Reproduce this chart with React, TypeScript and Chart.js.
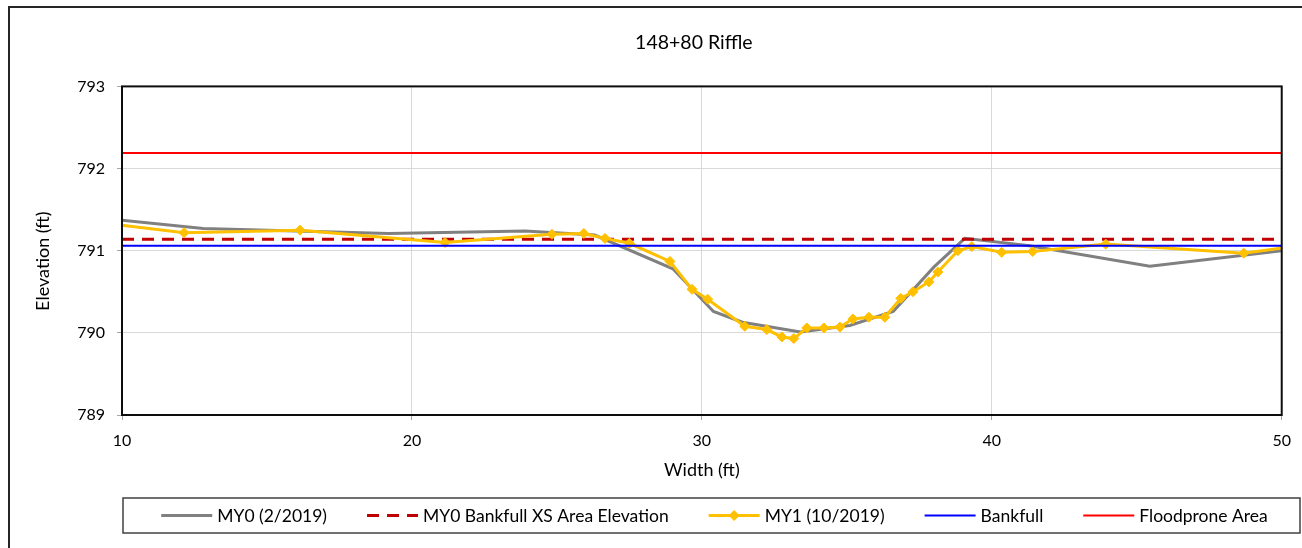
import React, { useEffect, useRef } from 'react';
import { Chart, registerables } from 'chart.js';

Chart.register(...registerables);

// ---- data ----
const chartTitle = '148+80 Riffle';
const xAxisTitle = 'Width (ft)';
const yAxisTitle = 'Elevation (ft)';
const xTicks = [10, 20, 30, 40, 50];
const yTicks = [789, 790, 791, 792, 793];

const seriesNames = [
  'MY0 (2/2019)',
  'MY0 Bankfull XS Area Elevation',
  'MY1 (10/2019)',
  'Bankfull',
  'Floodprone Area',
];

const my0X = [10, 12.8, 19.2, 23.9, 26.3, 29.0, 30.4, 31.4, 33.4, 35.1, 36.6, 38.0, 39.07, 41.3, 45.45, 50];
const my0Y = [791.37, 791.27, 791.21, 791.24, 791.19, 790.78, 790.26, 790.13, 790.01, 790.09, 790.26, 790.8, 791.15, 791.06, 790.81, 791.0];

const my1X = [9.0, 12.14, 16.14, 21.14, 24.83, 25.93, 26.66, 27.5, 28.9, 29.66, 30.2, 31.48, 32.24, 32.76, 33.17, 33.62, 34.21, 34.76, 35.21, 35.76, 36.31, 36.86, 37.28, 37.83, 38.14, 38.83, 39.31, 40.34, 41.41, 43.93, 48.69, 51.0];
const my1Y = [791.35, 791.22, 791.25, 791.1, 791.2, 791.21, 791.15, 791.09, 790.87, 790.53, 790.41, 790.08, 790.04, 789.95, 789.93, 790.06, 790.06, 790.07, 790.17, 790.19, 790.19, 790.42, 790.5, 790.62, 790.74, 791.0, 791.05, 790.98, 790.99, 791.08, 790.97, 791.08];

const refLineX = [10, 50];
const bankfullXsAreaElev = 791.14;
const bankfullElev = 791.06;
const floodproneElev = 792.19;

// ---- helpers ----
const FONT = 'Lato, "Open Sans", sans-serif';
const pts = (xs: number[], ys: number[]) => xs.map((x, i) => ({ x, y: ys[i] }));
const flat = (xs: number[], v: number) => xs.map((x) => ({ x, y: v }));

const titleShiftPlugin = {
  id: 'titleShift',
  afterLayout(chart: any) {
    const t = chart.titleBlock;
    const a = chart.chartArea;
    if (!t || !a) return;
    const target = (a.left + a.right) / 2 - 8;
    const shift = target - (t.left + t.right) / 2;
    t.left += shift;
    t.right += shift;
  },
};

const framePlugin = {
  id: 'plotFrame',
  afterDatasetsDraw(chart: any) {
    const { ctx, chartArea: a } = chart;
    ctx.save();
    ctx.strokeStyle = '#0d0d0d';
    ctx.lineWidth = 2;
    ctx.strokeRect(a.left, a.top, a.right - a.left, a.bottom - a.top);
    ctx.restore();
  },
};

const yTitlePlugin = {
  id: 'yTitle',
  afterDraw(chart: any) {
    const { ctx, chartArea: a } = chart;
    ctx.save();
    ctx.translate(33, (a.top + a.bottom) / 2 + 10.5);
    ctx.rotate(-Math.PI / 2);
    ctx.font = `18px ${FONT}`;
    ctx.fillStyle = '#000';
    ctx.textAlign = 'center';
    ctx.textBaseline = 'middle';
    ctx.fillText(yAxisTitle, 0, 0);
    ctx.restore();
  },
};

const legendPlugin = {
  id: 'boxLegend',
  afterDraw(chart: any) {
    const { ctx, chartArea: a } = chart;
    const boxL = a.left + 1;
    const boxR = chart.width - 2;
    const boxT = a.bottom + 83;
    const boxB = a.bottom + 118;
    ctx.save();
    ctx.strokeStyle = '#404040';
    ctx.lineWidth = 1.5;
    ctx.strokeRect(boxL, boxT, boxR - boxL, boxB - boxT);
    ctx.font = `17.5px ${FONT}`;
    const sampleW = 51;
    const gapText = 5;
    const gapItem = 40;
    const ds = chart.data.datasets;
    const widths = ds.map((d: any) => sampleW + gapText + ctx.measureText(d.label).width);
    const total = widths.reduce((s: number, w: number) => s + w, 0) + gapItem * (ds.length - 1);
    let x = (boxL + boxR) / 2 + 3 - total / 2;
    const cy = (boxT + boxB) / 2;
    ds.forEach((d: any, i: number) => {
      ctx.beginPath();
      ctx.strokeStyle = d.borderColor;
      ctx.lineWidth = d.borderWidth;
      ctx.setLineDash(d.borderDash || []);
      ctx.moveTo(x, cy);
      ctx.lineTo(x + sampleW, cy);
      ctx.stroke();
      ctx.setLineDash([]);
      if (d.pointRadius > 0) {
        const r = d.pointRadius + 0.5;
        const mx = x + sampleW / 2;
        ctx.beginPath();
        ctx.moveTo(mx, cy - r);
        ctx.lineTo(mx + r, cy);
        ctx.lineTo(mx, cy + r);
        ctx.lineTo(mx - r, cy);
        ctx.closePath();
        ctx.fillStyle = d.pointBackgroundColor;
        ctx.fill();
      }
      ctx.fillStyle = '#000';
      ctx.textBaseline = 'middle';
      ctx.textAlign = 'left';
      ctx.fillText(d.label, x + sampleW + gapText, cy + 1);
      x += widths[i] + gapItem;
    });
    ctx.restore();
  },
};

export default function App() {
  const ref = useRef<HTMLCanvasElement>(null);

  useEffect(() => {
    if (!ref.current) return;
    const chart = new Chart(ref.current, {
      type: 'line',
      data: {
        datasets: [
          {
            label: seriesNames[0],
            data: pts(my0X, my0Y),
            borderColor: '#808080',
            backgroundColor: '#808080',
            borderWidth: 3,
            pointRadius: 0,
            order: 5,
          },
          {
            label: seriesNames[1],
            data: flat(refLineX, bankfullXsAreaElev),
            borderColor: '#c00000',
            backgroundColor: '#c00000',
            borderWidth: 3,
            borderDash: [12, 8],
            pointRadius: 0,
            order: 4,
          },
          {
            label: seriesNames[2],
            data: pts(my1X, my1Y),
            borderColor: '#ffc000',
            backgroundColor: '#ffc000',
            borderWidth: 3,
            pointStyle: 'rectRot',
            pointRadius: 5,
            pointBorderWidth: 1,
            pointBackgroundColor: '#ffc000',
            pointBorderColor: '#ffc000',
            order: 3,
          },
          {
            label: seriesNames[3],
            data: flat(refLineX, bankfullElev),
            borderColor: '#0000ff',
            backgroundColor: '#0000ff',
            borderWidth: 2,
            pointRadius: 0,
            order: 2,
          },
          {
            label: seriesNames[4],
            data: flat(refLineX, floodproneElev),
            borderColor: '#ff0000',
            backgroundColor: '#ff0000',
            borderWidth: 2,
            pointRadius: 0,
            order: 1,
          },
        ] as any,
      },
      options: {
        animation: false,
        responsive: false,
        devicePixelRatio: 1,
        events: [],
        layout: { padding: { left: 0, right: 20, top: 0, bottom: 0 } },
        plugins: {
          legend: { display: false },
          tooltip: { enabled: false },
          title: {
            display: true,
            text: chartTitle,
            color: '#000',
            font: { family: FONT, size: 19.5, weight: 'normal' },
            padding: { top: 23, bottom: 32 },
          },
        },
        scales: {
          x: {
            type: 'linear',
            min: xTicks[0],
            max: xTicks[xTicks.length - 1],
            afterBuildTicks: (s: any) => {
              s.ticks = xTicks.map((v) => ({ value: v }));
            },
            afterFit: (s: any) => {
              s.height = 133;
            },
            grid: { color: '#d9d9d9', lineWidth: 1, tickLength: 5, tickColor: '#a6a6a6' },
            border: { display: false },
            ticks: { color: '#000', font: { family: FONT, size: 16 }, padding: 11, maxRotation: 0 },
            title: {
              display: true,
              text: xAxisTitle,
              color: '#000',
              font: { family: FONT, size: 18 },
              padding: { top: 0, bottom: 67 },
            },
          },
          y: {
            type: 'linear',
            min: yTicks[0],
            max: yTicks[yTicks.length - 1],
            afterBuildTicks: (s: any) => {
              s.ticks = yTicks.map((v) => ({ value: v }));
            },
            afterFit: (s: any) => {
              s.width = 112;
            },
            grid: { color: '#d9d9d9', lineWidth: 1, tickLength: 5, tickColor: '#a6a6a6' },
            border: { display: false },
            ticks: { color: '#000', font: { family: FONT, size: 16 }, padding: 12 },
            title: { display: false },
          },
        },
      } as any,
      plugins: [titleShiftPlugin, framePlugin, yTitlePlugin, legendPlugin],
    });
    return () => chart.destroy();
  }, []);

  return (
    <div
      style={{
        position: 'absolute',
        left: 8,
        top: 6,
        width: 1294,
        height: 542,
        borderLeft: '2px solid #262626',
        borderTop: '2px solid #262626',
        overflow: 'hidden',
        background: '#fff',
      }}
    >
      <canvas ref={ref} width={1292} height={540} style={{ display: 'block' }} />
    </div>
  );
}
